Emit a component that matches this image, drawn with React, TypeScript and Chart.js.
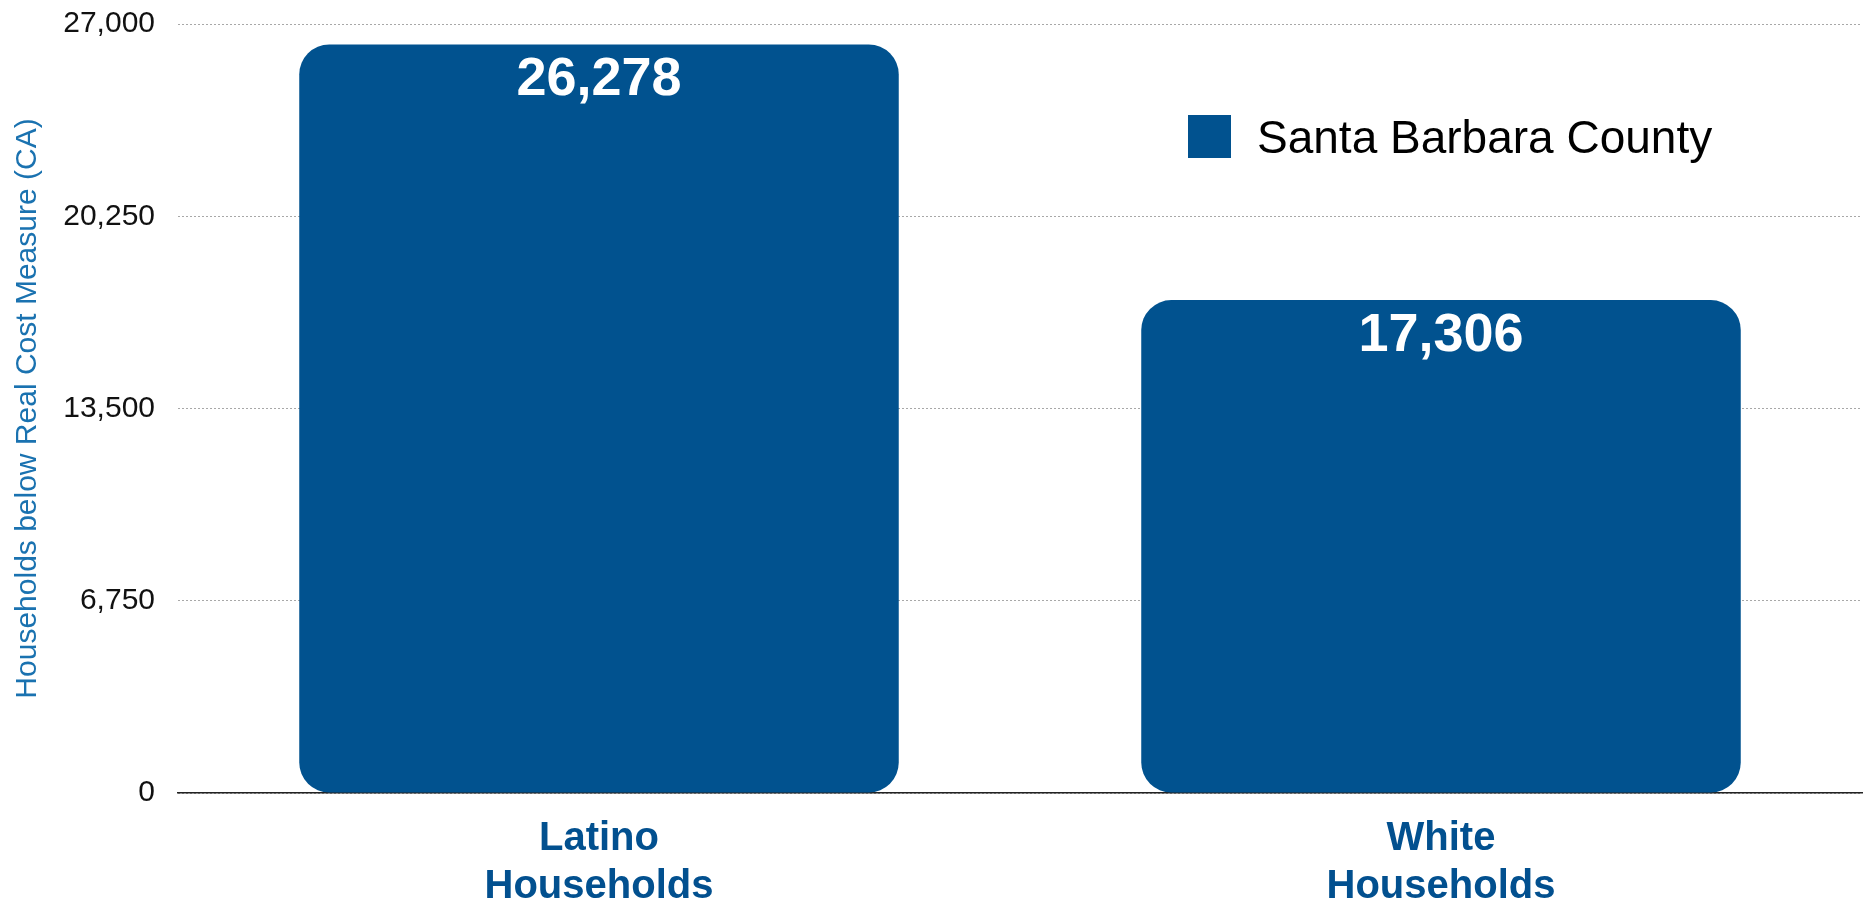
import React, { useEffect, useRef } from "react";
import { Chart, registerables } from "chart.js";

Chart.register(...registerables);

const categories: string[][] = [["Latino", "Households"], ["White", "Households"]];
const seriesLabel = "Santa Barbara County";
const values: number[] = [26278, 17306];
const yTicks: number[] = [0, 6750, 13500, 20250, 27000];
const yTitle = "Households below Real Cost Measure (CA)";

const BAR = "#01528f";
const FONT = "'Liberation Sans', Arial, Helvetica, sans-serif";

const valueLabels = {
  id: "valueLabels",
  afterDatasetsDraw(chart: any) {
    const ctx = chart.ctx;
    const meta = chart.getDatasetMeta(0);
    ctx.save();
    ctx.fillStyle = "#ffffff";
    ctx.font = `bold 54px ${FONT}`;
    ctx.textAlign = "center";
    ctx.textBaseline = "middle";
    meta.data.forEach((el: any, i: number) => {
      const v = chart.data.datasets[0].data[i] as number;
      ctx.fillText(v.toLocaleString("en-US"), el.x, el.y + 36);
    });
    ctx.restore();
  },
};

const insideLegend = {
  id: "insideLegend",
  afterDraw(chart: any) {
    const ctx = chart.ctx;
    const ds = chart.data.datasets[0];
    const x = 1188;
    const y = 115;
    const s = 43;
    ctx.save();
    ctx.fillStyle = ds.backgroundColor;
    ctx.fillRect(x, y, s, s);
    ctx.fillStyle = "#000000";
    ctx.font = `46px ${FONT}`;
    ctx.textAlign = "left";
    ctx.textBaseline = "middle";
    ctx.fillText(ds.label, x + s + 26, y + s / 2 + 4);
    ctx.restore();
  },
};

export default function App() {
  const ref = useRef<HTMLCanvasElement | null>(null);
  useEffect(() => {
    if (!ref.current) return;
    const chart = new Chart(ref.current, {
      type: "bar",
      data: {
        labels: categories,
        datasets: [
          {
            label: seriesLabel,
            data: values,
            backgroundColor: BAR,
            borderRadius: 30,
            borderSkipped: false,
            barPercentage: 0.712,
            categoryPercentage: 1,
          },
        ],
      },
      plugins: [valueLabels, insideLegend],
      options: {
        animation: false,
        responsive: true,
        maintainAspectRatio: false,
        layout: { padding: { top: 24, right: 3, left: 0, bottom: 0 } },
        plugins: {
          legend: { display: false },
          tooltip: { enabled: false },
        },
        scales: {
          x: {
            grid: { display: false, drawTicks: false },
            border: { display: true, color: "#222222", width: 1.5 },
            afterFit: (scale: any) => {
              scale.height = 115;
            },
            ticks: {
              color: "#02508f",
              font: { family: FONT, size: 40, weight: "bold", lineHeight: 1.2 },
              padding: 22,
              maxRotation: 0,
            },
          },
          y: {
            min: 0,
            max: 27000,
            afterBuildTicks: (scale: any) => {
              scale.ticks = yTicks.map((v) => ({ value: v }));
            },
            afterFit: (scale: any) => {
              scale.width = 178;
              scale.paddingTop = 0;
              scale.paddingBottom = 0;
            },
            grid: { color: "#a8a8a8", lineWidth: 1, drawTicks: false },
            border: { display: false, dash: [2, 2] },
            ticks: {
              color: "#111111",
              font: { family: FONT, size: 30 },
              padding: 23,
              callback: (v: any) => Number(v).toLocaleString("en-US"),
            },
            title: {
              display: true,
              text: yTitle,
              color: "#1a72b0",
              font: { family: FONT, size: 30, lineHeight: 1.2 },
              padding: { top: 10, bottom: 0 },
            },
          },
        },
      },
    });
    return () => chart.destroy();
  }, []);
  return (
    <div style={{ position: "fixed", left: 0, top: 0, width: 1865, height: 908, background: "#ffffff" }}>
      <canvas ref={ref} />
    </div>
  );
}
